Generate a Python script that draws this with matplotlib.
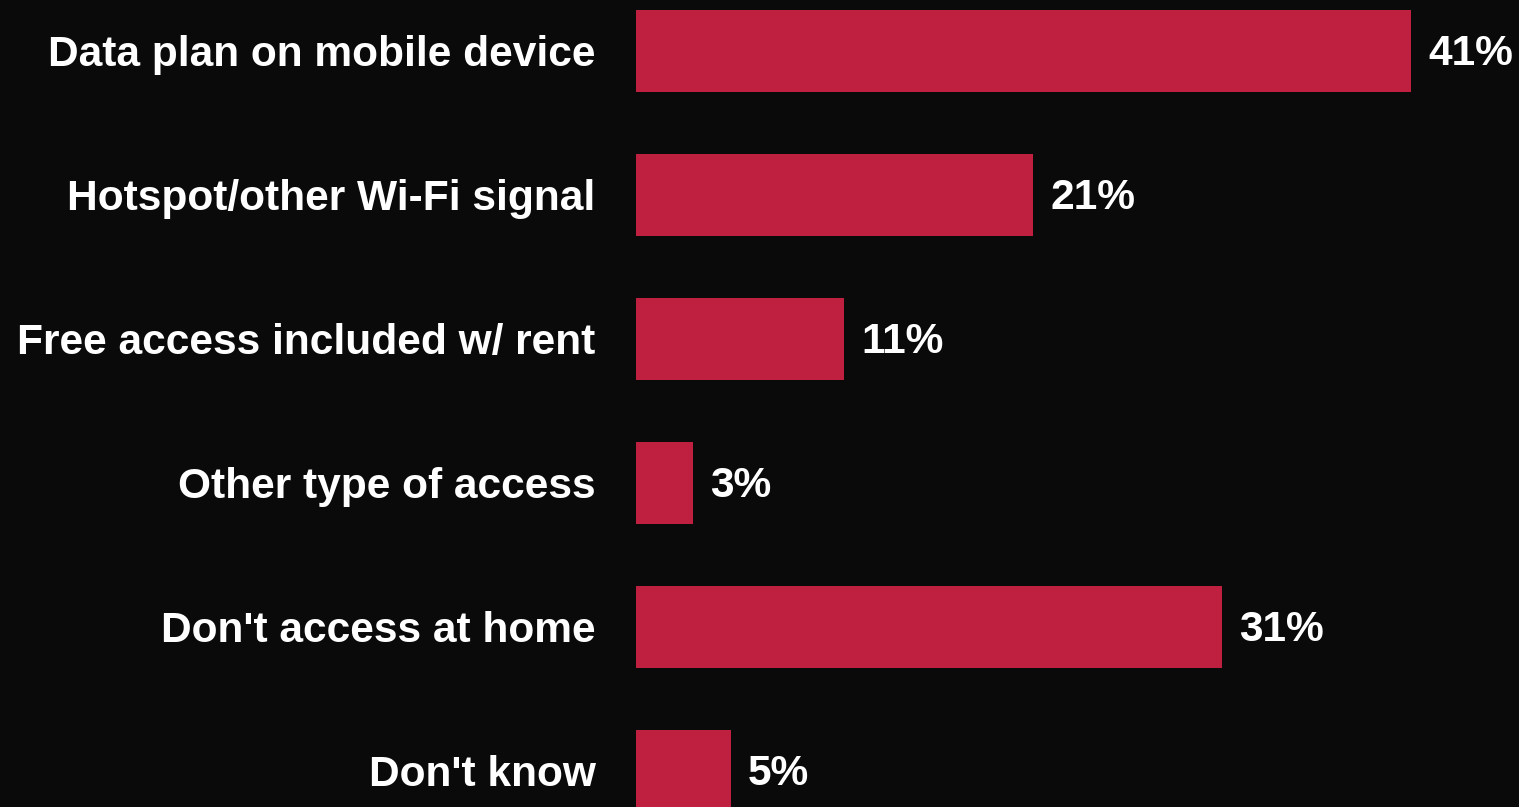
import matplotlib
matplotlib.use("Agg")
import matplotlib.pyplot as plt

# home internet access survey
categories = [
    "Data plan on mobile device",
    "Hotspot/other Wi-Fi signal",
    "Free access included w/ rent",
    "Other type of access",
    "Don't access at home",
    "Don't know",
]
shares = [41, 21, 11, 3, 31, 5]

bg = "#0a0a0a"
bar_color = "#c0203f"

plt.rcParams["font.family"] = ["Liberation Sans", "DejaVu Sans"]

fig = plt.figure(figsize=(15.19, 8.07), dpi=100, facecolor=bg)
ax = fig.add_axes([636 / 1519, 0, 850 / 1519, 1], facecolor=bg)

pos = list(range(len(categories)))
ax.barh(pos, shares, height=0.57, color=bar_color)

ax.set_xlim(0, 850 / 18.9)
ax.set_ylim(5.25, -0.354)

ax.set_yticks(pos)
ax.set_yticklabels(categories, fontsize=30.6, fontweight="bold", color="white")
ax.tick_params(axis="y", length=0, pad=29)
ax.set_xticks([])
for s in ax.spines.values():
    s.set_visible(False)

for y, v in zip(pos, shares):
    ax.annotate(f"{v}%", xy=(v, y), xytext=(12.5, -2.5), textcoords="offset points",
                ha="left", va="center", fontsize=30.6, fontweight="bold",
                color="white", annotation_clip=False)

fig.savefig("out.png", dpi=100, facecolor=bg)
